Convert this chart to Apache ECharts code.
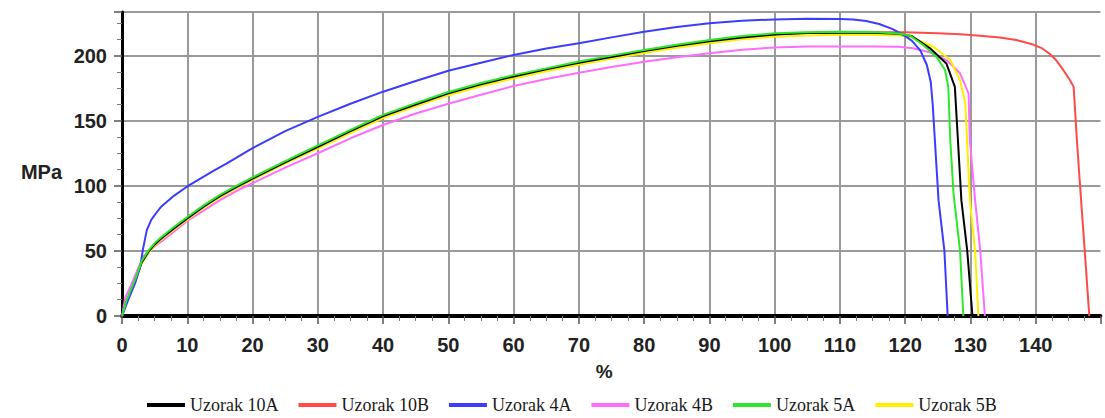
<!DOCTYPE html>
<html>
<head>
<meta charset="utf-8">
<script src="https://cdn.jsdelivr.net/npm/echarts@6/dist/echarts.min.js"></script>
<style>
html,body{margin:0;padding:0;background:#fff;}
#chart{width:1105px;height:418px;}
</style>
</head>
<body>
<div id="chart"></div>
<script>
// Series names (legend order)
const seriesNames = ['Uzorak 10A', 'Uzorak 10B', 'Uzorak 4A', 'Uzorak 4B', 'Uzorak 5A', 'Uzorak 5B'];
const seriesColors = ['#000000', '#ff4a4a', '#3c3cff', '#ff6cff', '#2ee62e', '#ffee00'];

// Strain (%) and stress (MPa)
const x10A = [0,0.7,1.5,2,3,4,5,6,8,10,12.5,15,17.5,20,25,30,35,40,45,50,55,60,65,70,75,80,85,90,95,100,105,110,115,119,121,123.8,126.3,127.6,127.9,128.6,129.5,130.3];
const y10A = [0,11,21,27,41,49,55,59.5,67.5,75,84,92,99,105.5,118,130,142,153.5,162.5,171,178,184,189.5,194.5,199,203.5,207.5,211,214,216.2,217.3,217.6,217.5,216.8,215,205.6,194,176,150,89,50,0];

const x10B = [0,0.7,1.5,2,3,4,5,6,8,10,12.5,15,17.5,20,25,30,35,40,45,50,55,60,65,70,75,80,85,90,95,100,105,110,115,120,125,128.4,131,134.5,137,139.6,141,142.2,143.2,144.2,145.2,145.8,146.3,146.8,147.5,148.2];
const y10B = [0,11,21,27,41,49,55,59.5,68,75.5,84.5,92.5,99.5,106,118.5,130.5,142.5,154,163,171.5,178.5,184.5,190,195,199.5,204,208,211.5,214.5,216.5,217.5,218,218,217.9,217.2,216.4,215.5,214,212,208.5,205.5,201,196,189,181.5,176,135,99,50,0];

const x4A = [0,1,2,2.8,3.2,3.8,4.5,5.3,6,8,10,12,14,16,20,25,30,35,40,45,50,55,60,65,70,75,80,85,90,95,100,105,110,112,114,116,118,119.5,121,122.3,123.3,123.9,124.2,125.1,126,126.5];
const y4A = [0,13,25,38,51,66,74,79.5,84,92.5,99.5,105.5,111.5,117,129,142,153,163,172.3,180.5,188.4,194.5,200.5,205.5,209.5,214,218.4,222,224.8,226.8,227.8,228.3,228.2,227.8,226.6,224.3,220.5,216.5,211.5,204,193,180,163,89,50,0];

const x4B = [0,0.5,1.5,2.5,3.3,4.3,6,8,10,12.5,15,17.5,20,25,30,35,40,45,50,55,60,65,70,75,80,85,90,95,100,105,110,115,119,121.2,124.3,126.3,128.4,129.7,129.9,130.7,131.5,132.2];
const y4B = [0,14,25,37,46,51,57,65,73,81,89,96,102,114,125,136.5,146.7,155.5,163,170,176.6,182,186.8,191.3,195.3,198.8,201.8,204.5,206.3,207,207,207,206.8,205.6,201.8,196.6,186.4,171,135,89,50,0];

const x5A = [0,0.7,1.5,2,3,4,5,6,8,10,12.5,15,17.5,20,25,30,35,40,45,50,55,60,65,70,75,80,85,90,95,100,105,110,115,119,120.7,122.8,124.8,126.1,126.6,126.9,127.4,128.4,128.9];
const y5A = [0,12,22,28,42,50,56,60.5,68.5,76,85,93,100,106.5,119,131,143,154.5,163.5,172,179,185,190.2,195.5,200,204.3,208.3,212,215,217.1,218,218.4,218.2,217,215.5,208,199,189,176,135,94,50,0];

const x5B = [0,0.7,1.5,2,3,4,5,6,8,10,12.5,15,17.5,20,25,30,35,40,45,50,55,60,65,70,75,80,85,90,95,100,105,110,115,119,121,124.3,126.9,128.4,129.2,129.9,130.7,131.2];
const y5B = [0,10,20,26,40,48,54,58.5,66.5,74,83,91,98,104.5,117,128.5,140.5,152,161,169.5,176.5,182.5,188,193,197.5,202,206,209.5,212.5,214.5,215.5,216,216,215.5,214,206.8,196.6,181,163.6,89,50,0];

const xs = [x10A, x10B, x4A, x4B, x5A, x5B];
const ys = [y10A, y10B, y4A, y4B, y5A, y5B];
const zOrder = [3, 2, 4, 1, 5, 2];

const chart = echarts.init(document.getElementById('chart'), null, {renderer: 'svg'});

const series = seriesNames.map((name, i) => ({
  name: name,
  type: 'line',
  showSymbol: false,
  symbol: 'none',
  z: zOrder[i],
  lineStyle: {color: seriesColors[i], width: 2},
  itemStyle: {color: seriesColors[i]},
  data: xs[i].map((x, k) => [x, ys[i][k]])
}));

const option = {
  animation: false,
  backgroundColor: '#ffffff',
  grid: {left: 122, right: 4.6, top: 12, bottom: 102, containLabel: false},
  legend: {
    data: seriesNames,
    left: 147,
    top: 396,
    padding: 0,
    itemGap: 20,
    itemWidth: 38,
    itemHeight: 4,
    icon: 'rect',
    textStyle: {fontFamily: '"Liberation Serif", "Times New Roman", serif', fontSize: 18, color: '#1a1a1a'}
  },
  xAxis: {
    type: 'value',
    min: 0,
    max: 149.9,
    interval: 10,
    name: '%',
    nameLocation: 'middle',
    nameGap: 46,
    nameTextStyle: {fontFamily: '"Liberation Sans", Arial, sans-serif', fontWeight: 'bold', fontSize: 19, color: '#222', padding: [0, 14, 0, 0]},
    axisLine: {show: true, onZero: false, lineStyle: {color: '#000', width: 4}},
    axisTick: {show: true, length: 8, lineStyle: {color: '#555', width: 1.5}},
    minorTick: {show: true, splitNumber: 4, length: 5, lineStyle: {color: '#777', width: 1}},
    axisLabel: {
      margin: 19,
      showMaxLabel: false,
      fontFamily: '"Liberation Sans", Arial, sans-serif',
      fontWeight: 'bold',
      fontSize: 20,
      color: '#222'
    },
    splitLine: {show: true, showMinLine: false, showMaxLine: false, lineStyle: {color: '#9a9a9a', width: 2}}
  },
  yAxis: {
    type: 'value',
    min: 0,
    max: 233.5,
    interval: 50,
    name: 'MPa',
    nameLocation: 'middle',
    nameRotate: 0,
    nameGap: 60,
    nameTextStyle: {fontFamily: '"Liberation Sans", Arial, sans-serif', fontWeight: 'bold', fontSize: 20, color: '#222', align: 'right', verticalAlign: 'top', padding: [-2, 0, 0, 0]},
    axisLine: {show: true, onZero: false, lineStyle: {color: '#000', width: 3}},
    axisTick: {show: true, length: 8, lineStyle: {color: '#555', width: 1.5}},
    minorTick: {show: true, splitNumber: 4, length: 5, lineStyle: {color: '#777', width: 1}},
    axisLabel: {
      margin: 15,
      showMaxLabel: false,
      fontFamily: '"Liberation Sans", Arial, sans-serif',
      fontWeight: 'bold',
      fontSize: 20,
      color: '#222'
    },
    splitLine: {show: true, showMinLine: false, showMaxLine: true, lineStyle: {color: '#9a9a9a', width: 2}}
  },
  series: series
};

chart.setOption(option);
</script>
</body>
</html>
